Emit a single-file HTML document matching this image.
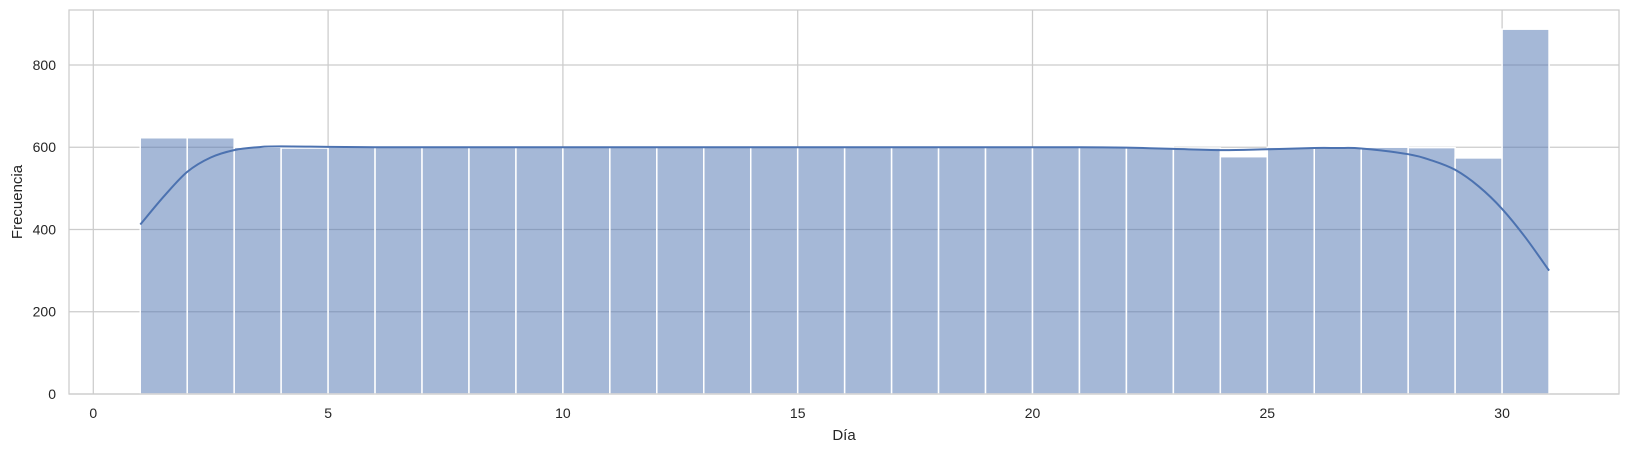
<!DOCTYPE html>
<html><head><meta charset="utf-8"><style>
html,body{margin:0;padding:0;background:#fff;}
svg text{font-family:"Liberation Sans",Arial,sans-serif;fill:#262626;}
</style></head><body>
<svg id="chart" width="1629" height="452" xmlns="http://www.w3.org/2000/svg">
<g id="grid"></g>
<g id="bars"></g>
<g id="kde"></g>
<rect x="69" y="10" width="1550" height="384" fill="none" stroke="#cccccc" stroke-width="1.25"/>
<g id="ticks"></g>
<text x="844" y="440" font-size="15" text-anchor="middle">Día</text>
<text transform="translate(22,202) rotate(-90)" font-size="15" text-anchor="middle">Frecuencia</text>
</svg>
<script>
const binStarts = [1,2,3,4,5,6,7,8,9,10,11,12,13,14,15,16,17,18,19,20,21,22,23,24,25,26,27,28,29,30];
const counts = [623,623,600,598,600,600,600,600,600,600,600,600,600,600,600,600,600,600,600,600,600,600,598,577,600,600,600,599,574,887];
const kdeX = [1,1.5,2,2.5,3,3.5,4,6,10,15,20,21,22,23,24,25,26,26.5,27,28,28.5,29,29.5,30,30.5,31];
const kdeY = [412,480,540,575,593,600,602,600,600,600,600,600,599,596,593,595,598,598,597,583,568,545,505,450,380,300];
const xTicks = [0,5,10,15,20,25,30];
const yTicks = [0,200,400,600,800];

const NS = "http://www.w3.org/2000/svg";
const x = v => 93.3 + v * 46.96;
const y = v => 394 - v * 0.4113;
function mk(tag, attrs, parent){const e=document.createElementNS(NS,tag);for(const k in attrs)e.setAttribute(k,attrs[k]);parent.appendChild(e);return e;}
const grid=document.getElementById('grid'), bars=document.getElementById('bars'), kde=document.getElementById('kde'), ticks=document.getElementById('ticks');

xTicks.forEach(t=>{
  const l=mk('line',{x1:x(t),x2:x(t),y1:10,y2:394,stroke:'#cccccc','stroke-width':1.25},grid);
  
  
  const tx=mk('text',{x:x(t),y:418,'font-size':14,'text-anchor':'middle'},ticks);
  tx.textContent=t;
  
  
});
yTicks.forEach(t=>{
  const l=mk('line',{x1:69,x2:1619,y1:y(t),y2:y(t),stroke:'#cccccc','stroke-width':1.25},grid);
  
  
  const tx=mk('text',{x:56,y:y(t)+5,'font-size':14,'text-anchor':'end'},ticks);
  tx.textContent=t;
  
  
});
binStarts.forEach((b,i)=>{
  const r=mk('rect',{x:x(b),y:y(counts[i]),width:x(b+1)-x(b),height:y(0)-y(counts[i]),fill:'rgba(76,114,176,0.5)',stroke:'#ffffff','stroke-width':1.5},bars);
  
  
});
const pts=kdeX.map((v,i)=>[x(v),y(kdeY[i])]);
let d='M'+pts[0][0].toFixed(1)+','+pts[0][1].toFixed(1);
for(let i=0;i<pts.length-1;i++){
  const p0=pts[Math.max(0,i-1)],p1=pts[i],p2=pts[i+1],p3=pts[Math.min(pts.length-1,i+2)];
  const c1=[p1[0]+(p2[0]-p0[0])/6,p1[1]+(p2[1]-p0[1])/6];
  const c2=[p2[0]-(p3[0]-p1[0])/6,p2[1]-(p3[1]-p1[1])/6];
  d+='C'+c1[0].toFixed(1)+','+c1[1].toFixed(1)+' '+c2[0].toFixed(1)+','+c2[1].toFixed(1)+' '+p2[0].toFixed(1)+','+p2[1].toFixed(1);
}
const p=mk('path',{d:d,fill:'none',stroke:'#4c72b0','stroke-width':2,'stroke-linejoin':'round'},kde);


</script>
</body></html>
